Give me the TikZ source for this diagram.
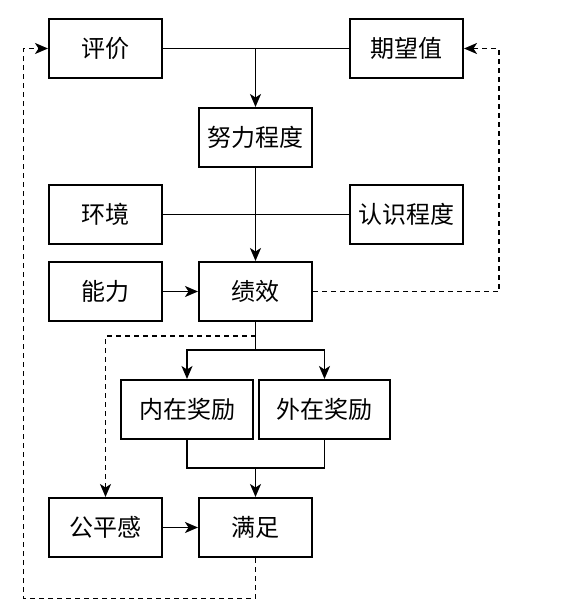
\documentclass[tikz,border=0pt]{standalone}
\usepackage{fontspec}
\setmainfont{Noto Sans CJK SC}
\usetikzlibrary{arrows.meta}
\tikzset{
  box/.style={draw, line width=2pt, minimum width=113pt, minimum height=59pt, inner sep=0pt, font=\fontsize{24pt}{28pt}\selectfont},
  wbox/.style={box, minimum width=132pt},
  conn/.style={line width=1.7pt},
  arr/.style={conn, -{Stealth[length=13pt,width=11pt,inset=3.5pt]}},
  dconn/.style={conn, dash pattern=on 5pt off 4pt},
  darr/.style={arr, dash pattern=on 5pt off 4pt},
}
\begin{document}
\begin{tikzpicture}[x=1pt,y=-1pt]
\useasboundingbox (0,0) rectangle (587,613);
\node[box] (pj) at (105.5,48.5) {评价};
\node[box] (qw) at (406.5,48.5) {期望值};
\node[box] (nl) at (255.5,137.5) {努力程度};
\node[box] (hj) at (105.5,214.5) {环境};
\node[box] (rs) at (406.5,214.5) {认识程度};
\node[box] (ll) at (105.5,291.5) {能力};
\node[box] (jx) at (255.5,291.5) {绩效};
\node[wbox] (nz) at (187,409.5) {内在奖励};
\node[wbox, minimum width=131pt] (wz) at (324.5,409.5) {外在奖励};
\node[box] (gp) at (105.5,527.5) {公平感};
\node[box] (mz) at (255.5,527.5) {满足};
\coordinate (rx) at (499,291.5);
\coordinate (lx) at (23.5,598.5);
\coordinate (s1) at (255.5,350);
\coordinate (d1) at (255.5,336);
\coordinate (m1) at (255.5,468);
% top
\draw[conn] (pj.east) -- (qw.west);
\draw[arr] (pj.east -| nl.north) -- (nl.north);
\draw[arr] (nl.south) -- (jx.north);
\draw[conn] (hj.east) -- (rs.west);
\draw[arr] (ll.east) -- (jx.west);
% feedback loops
\draw[darr] (jx.east) -- (rx) |- (qw.east);
\draw[darr] (mz.south) |- (lx) |- (pj.west);
% rewards
\draw[conn] (jx.south) -- (s1);
\draw[arr] (s1) -| (nz.north);
\draw[arr] (s1) -| (wz.north);
\draw[darr] (d1) -| (gp.north);
\draw[conn] (nz.south) |- (m1) -| (wz.south);
\draw[arr] (m1) -- (mz.north);
\draw[arr] (gp.east) -- (mz.west);
\end{tikzpicture}
\end{document}
